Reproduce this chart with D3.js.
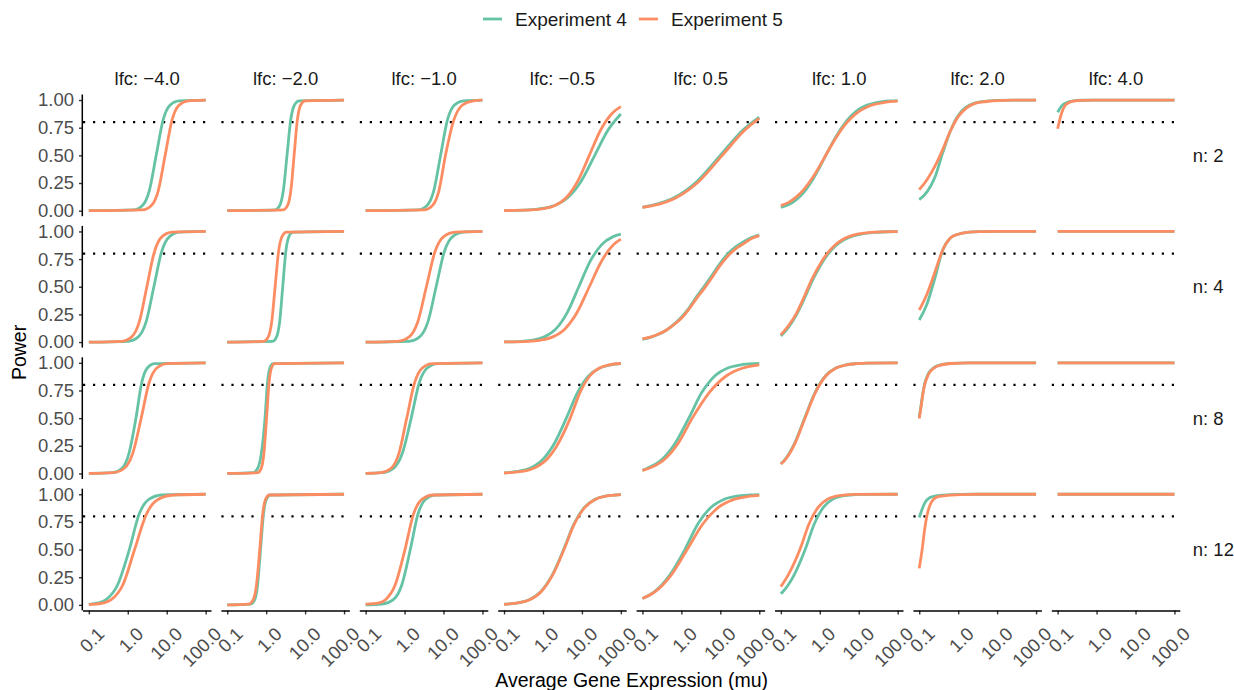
<!DOCTYPE html>
<meta charset="utf-8">
<style>
body { margin: 0; background: #fff; }
text { font-family: "Liberation Sans", Arial, Helvetica, sans-serif; }
.curve { fill: none; stroke-width: 2.8px; stroke-linejoin: round; }
.target { stroke: #000; stroke-width: 2.2px; stroke-dasharray: 2.2, 7.8; }
.axis-line { stroke: #000; stroke-width: 1.5px; }
</style>
<body>
<script src="https://d3js.org/d3.v7.min.js"></script>
<script>

// facets
var lfcs = [-4, -2, -1, -0.5, 0.5, 1, 2, 4];
var ns = [2, 4, 8, 12];
var experiments = ["Experiment 4", "Experiment 5"];
var colors = ["#66c2a5", "#fc8d62"];
var muTicks = [0.1, 1, 10, 100];
var powerTicks = [0, 0.25, 0.5, 0.75, 1];
var targetPower = 0.8;

// power curves, one list per lfc panel, points are [log10(mu), power]
var exp4_n2 = [
  [[-1,0],[0.142,0.007],[0.377,0.047],[0.554,0.182],[0.73,0.5],[0.906,0.818],[1.083,0.953],[1.318,0.993],[2,1]],
  [[-1,0],[0.222,0.007],[0.348,0.047],[0.441,0.182],[0.535,0.5],[0.629,0.818],[0.723,0.953],[0.848,0.993],[2,1]],
  [[-1,0],[0.344,0.007],[0.576,0.047],[0.751,0.182],[0.925,0.5],[1.099,0.818],[1.274,0.953],[1.506,0.993],[2,1]],
  [[-1,0.001],[-0.394,0.007],[-0.049,0.018],[0.296,0.047],[0.64,0.119],[0.985,0.269],[1.33,0.5],[1.675,0.731],[2,0.874]],
  [[-1,0.03],[-0.765,0.047],[-0.176,0.119],[0.412,0.269],[1.0,0.5],[1.588,0.731],[2,0.846]],
  [[-1,0.03],[-0.8,0.055],[-0.6,0.1],[-0.4,0.17],[-0.2,0.27],[0,0.395],[0.2,0.53],[0.4,0.66],[0.6,0.77],[0.8,0.855],[1,0.915],[1.2,0.952],[1.4,0.973],[1.6,0.985],[1.8,0.992],[2,0.995]],
  [[-1,0.1],[-0.8,0.17],[-0.6,0.3],[-0.4,0.52],[-0.2,0.72],[0,0.86],[0.2,0.935],[0.4,0.97],[0.6,0.985],[0.8,0.993],[1,0.997],[1.4,1],[2,1]],
  [[-1,0.89],[-0.9,0.945],[-0.8,0.972],[-0.6,0.993],[-0.4,0.998],[0,1],[2,1]]
];
var exp5_n2 = [
  [[-1,0],[0.372,0.007],[0.607,0.047],[0.784,0.182],[0.96,0.5],[1.136,0.818],[1.313,0.953],[1.548,0.993],[2,1]],
  [[-1,0],[0.439,0.007],[0.55,0.047],[0.634,0.182],[0.717,0.5],[0.8,0.818],[0.884,0.953],[0.995,0.993],[2,1]],
  [[-1,0],[0.494,0.007],[0.717,0.047],[0.883,0.182],[1.05,0.5],[1.264,0.818],[1.479,0.953],[1.764,0.993],[2,0.999]],
  [[-1,0.001],[-0.28,0.007],[0.014,0.018],[0.308,0.047],[0.602,0.119],[0.896,0.269],[1.19,0.5],[1.484,0.731],[1.778,0.881],[2,0.94]],
  [[-1,0.03],[-0.715,0.047],[-0.126,0.119],[0.462,0.269],[1.05,0.5],[1.638,0.731],[2,0.834]],
  [[-1,0.045],[-0.8,0.075],[-0.6,0.125],[-0.4,0.195],[-0.2,0.29],[0,0.405],[0.2,0.53],[0.4,0.65],[0.6,0.755],[0.8,0.835],[1,0.895],[1.2,0.935],[1.4,0.96],[1.6,0.975],[1.8,0.985],[2,0.99]],
  [[-1,0.19],[-0.8,0.28],[-0.6,0.4],[-0.4,0.55],[-0.2,0.72],[0,0.85],[0.2,0.925],[0.4,0.965],[0.6,0.982],[0.8,0.99],[1,0.995],[1.4,1],[2,1]],
  [[-1,0.74],[-0.9,0.88],[-0.8,0.955],[-0.7,0.978],[-0.6,0.99],[-0.4,0.997],[0,1],[2,1]]
];
var exp4_n4 = [
  [[-1,0],[0.003,0.007],[0.27,0.047],[0.47,0.182],[0.67,0.5],[0.87,0.818],[1.07,0.953],[1.337,0.993],[2,1]],
  [[-1,0],[0.162,0.007],[0.267,0.047],[0.346,0.182],[0.425,0.5],[0.504,0.818],[0.583,0.953],[0.688,0.993],[2,1]],
  [[-1,0],[0.106,0.007],[0.387,0.047],[0.599,0.182],[0.81,0.5],[1.021,0.818],[1.233,0.953],[1.514,0.993],[2,1]],
  [[-1,0.001],[-0.55,0.007],[-0.256,0.018],[0.038,0.047],[0.332,0.119],[0.626,0.269],[0.92,0.5],[1.214,0.731],[1.508,0.881],[1.802,0.953],[2,0.975]],
  [[-1,0.025],[-0.8,0.042],[-0.6,0.068],[-0.4,0.105],[-0.2,0.158],[0,0.225],[0.2,0.31],[0.4,0.415],[0.6,0.51],[0.8,0.61],[1,0.715],[1.2,0.8],[1.4,0.862],[1.6,0.908],[1.8,0.945],[2,0.968]],
  [[-1,0.055],[-0.8,0.135],[-0.6,0.246],[-0.4,0.39],[-0.2,0.549],[0,0.68],[0.2,0.789],[0.4,0.868],[0.6,0.92],[0.8,0.953],[1,0.972],[1.2,0.984],[1.4,0.991],[1.6,0.995],[1.8,0.997],[2,0.998]],
  [[-1,0.2],[-0.8,0.345],[-0.6,0.575],[-0.4,0.83],[-0.2,0.94],[0,0.975],[0.2,0.99],[0.4,0.996],[0.6,0.998],[1,1],[2,1]],
  [[-1,1],[2,1]]
];
var exp5_n4 = [
  [[-1,0],[-0.159,0.007],[0.1,0.047],[0.295,0.182],[0.49,0.5],[0.685,0.818],[0.88,0.953],[1.139,0.993],[2,1]],
  [[-1,0],[-0.064,0.007],[0.054,0.047],[0.142,0.182],[0.23,0.5],[0.318,0.818],[0.406,0.953],[0.524,0.993],[2,1]],
  [[-1,0],[-0.181,0.007],[0.116,0.047],[0.338,0.182],[0.56,0.5],[0.782,0.818],[1.004,0.953],[1.301,0.993],[2,1]],
  [[-1,0.001],[-0.372,0.007],[-0.06,0.018],[0.252,0.047],[0.565,0.119],[0.878,0.269],[1.19,0.5],[1.503,0.731],[1.815,0.881],[2,0.93]],
  [[-1,0.028],[-0.8,0.045],[-0.6,0.07],[-0.4,0.105],[-0.2,0.155],[0,0.215],[0.2,0.3],[0.4,0.4],[0.6,0.49],[0.8,0.59],[1,0.695],[1.2,0.78],[1.4,0.845],[1.6,0.89],[1.8,0.935],[2,0.962]],
  [[-1,0.065],[-0.8,0.15],[-0.6,0.26],[-0.4,0.41],[-0.2,0.57],[0,0.7],[0.2,0.805],[0.4,0.88],[0.6,0.93],[0.8,0.96],[1,0.977],[1.2,0.987],[1.4,0.993],[1.6,0.996],[1.8,0.998],[2,0.999]],
  [[-1,0.29],[-0.8,0.435],[-0.6,0.63],[-0.4,0.83],[-0.2,0.94],[0,0.975],[0.2,0.99],[0.4,0.996],[0.6,0.998],[1,1],[2,1]],
  [[-1,1],[2,1]]
];
var exp4_n8 = [
  [[-1,0],[-0.385,0.007],[-0.147,0.047],[0.031,0.182],[0.21,0.5],[0.356,0.818],[0.501,0.953],[0.695,0.993],[2,1]],
  [[-1,0],[-0.343,0.007],[-0.218,0.047],[-0.124,0.182],[-0.03,0.5],[0.033,0.818],[0.095,0.953],[0.178,0.993],[2,1]],
  [[-1,0],[-0.588,0.007],[-0.285,0.047],[-0.057,0.182],[0.17,0.5],[0.375,0.818],[0.581,0.953],[0.855,0.993],[2,1]],
  [[-1,0.006],[-0.65,0.018],[-0.338,0.047],[-0.025,0.119],[0.288,0.269],[0.6,0.5],[0.886,0.731],[1.171,0.881],[1.457,0.953],[1.743,0.982],[2,0.993]],
  [[-1,0.028],[-0.881,0.047],[-0.524,0.119],[-0.167,0.269],[0.19,0.5],[0.523,0.731],[0.857,0.881],[1.19,0.953],[1.523,0.982],[1.857,0.993],[2,0.995]],
  [[-1,0.088],[-0.91,0.119],[-0.65,0.269],[-0.39,0.5],[-0.123,0.731],[0.144,0.881],[0.41,0.953],[0.677,0.982],[0.944,0.993],[1.21,0.998],[2,1]],
  [[-1,0.51],[-0.954,0.615],[-0.91,0.72],[-0.862,0.81],[-0.77,0.9],[-0.633,0.955],[-0.45,0.982],[-0.174,0.995],[0.28,1],[2,1]],
  [[-1,1],[2,1]]
];
var exp5_n8 = [
  [[-1,0],[-0.38,0.007],[-0.09,0.047],[0.128,0.182],[0.345,0.5],[0.545,0.818],[0.745,0.953],[1.012,0.993],[2,1]],
  [[-1,0],[-0.217,0.007],[-0.126,0.047],[-0.058,0.182],[0.01,0.5],[0.073,0.818],[0.135,0.953],[0.218,0.993],[2,1]],
  [[-1,0],[-0.612,0.007],[-0.345,0.047],[-0.145,0.182],[0.055,0.5],[0.255,0.818],[0.455,0.953],[0.722,0.993],[2,1]],
  [[-1,0.004],[-0.863,0.007],[-0.55,0.018],[-0.238,0.047],[0.075,0.119],[0.388,0.269],[0.7,0.5],[0.95,0.731],[1.2,0.881],[1.45,0.953],[1.7,0.982],[2,0.994]],
  [[-1,0.028],[-0.83,0.047],[-0.46,0.119],[-0.09,0.269],[0.28,0.5],[0.715,0.731],[1.15,0.881],[1.585,0.953],[2,0.981]],
  [[-1,0.085],[-0.9,0.119],[-0.64,0.269],[-0.38,0.5],[-0.113,0.731],[0.154,0.881],[0.42,0.953],[0.687,0.982],[0.954,0.993],[1.22,0.998],[2,1]],
  [[-1,0.497],[-0.954,0.6],[-0.91,0.71],[-0.862,0.8],[-0.77,0.89],[-0.633,0.95],[-0.45,0.98],[-0.174,0.994],[0.28,1],[2,1]],
  [[-1,1],[2,1]]
];
var exp4_n12 = [
  [[-1,0.005],[-0.76,0.018],[-0.56,0.047],[-0.26,0.182],[0.04,0.5],[0.29,0.818],[0.54,0.953],[0.873,0.993],[2,1]],
  [[-1,0],[-0.395,0.007],[-0.295,0.047],[-0.22,0.182],[-0.145,0.5],[-0.07,0.818],[0.005,0.953],[0.105,0.993],[2,1]],
  [[-1,0],[-0.578,0.007],[-0.288,0.047],[-0.07,0.182],[0.147,0.5],[0.342,0.818],[0.537,0.953],[0.796,0.993],[2,1]],
  [[-1,0.005],[-0.94,0.007],[-0.646,0.018],[-0.352,0.047],[-0.058,0.119],[0.236,0.269],[0.53,0.5],[0.797,0.731],[1.063,0.881],[1.33,0.953],[1.597,0.982],[1.863,0.993],[2,0.996]],
  [[-1,0.057],[-0.688,0.119],[-0.299,0.269],[0.09,0.5],[0.423,0.731],[0.757,0.881],[1.09,0.953],[1.423,0.982],[1.757,0.993],[2,0.997]],
  [[-1,0.1],[-0.947,0.119],[-0.661,0.269],[-0.375,0.5],[-0.142,0.731],[0.091,0.881],[0.323,0.953],[0.555,0.982],[0.788,0.993],[1.02,0.998],[2,1]],
  [[-1,0.79],[-0.86,0.92],[-0.725,0.97],[-0.54,0.988],[-0.17,0.997],[0.3,1],[2,1]],
  [[-1,1],[2,1]]
];
var exp5_n12 = [
  [[-1,0.003],[-0.825,0.007],[-0.625,0.018],[-0.425,0.047],[-0.125,0.182],[0.175,0.5],[0.475,0.818],[0.775,0.953],[1.175,0.993],[2,1]],
  [[-1,0],[-0.443,0.007],[-0.332,0.047],[-0.248,0.182],[-0.165,0.5],[-0.09,0.818],[-0.015,0.953],[0.085,0.993],[2,1]],
  [[-1,0.006],[-0.657,0.018],[-0.49,0.047],[-0.24,0.182],[0.01,0.5],[0.227,0.818],[0.445,0.953],[0.735,0.993],[2,1]],
  [[-1,0.005],[-0.93,0.007],[-0.636,0.018],[-0.342,0.047],[-0.048,0.119],[0.246,0.269],[0.54,0.5],[0.807,0.731],[1.073,0.881],[1.34,0.953],[1.607,0.982],[1.873,0.993],[2,0.996]],
  [[-1,0.058],[-0.674,0.119],[-0.262,0.269],[0.15,0.5],[0.55,0.731],[0.95,0.881],[1.35,0.953],[1.75,0.982],[2,0.99]],
  [[-1,0.165],[-0.813,0.269],[-0.51,0.5],[-0.277,0.731],[-0.044,0.881],[0.189,0.953],[0.421,0.982],[0.654,0.993],[0.886,0.998],[2,1]],
  [[-1,0.33],[-0.927,0.497],[-0.862,0.68],[-0.8,0.81],[-0.725,0.9],[-0.633,0.955],[-0.495,0.98],[-0.266,0.99],[0.1,0.997],[0.5,1],[2,1]],
  [[-1,1],[2,1]]
];

// rows of the grid: [Experiment 4, Experiment 5]
var rows = [
  [exp4_n2, exp5_n2],
  [exp4_n4, exp5_n4],
  [exp4_n8, exp5_n8],
  [exp4_n12, exp5_n12]
];

// layout
var width = 1234, height = 690;
var gridLeft = 83, gridTop = 94.5;
var panelW = 128.5, panelH = 121.7;
var colStep = 138.4, rowStep = 131.4;

var svg = d3.select("body").append("svg")
    .attr("width", width)
    .attr("height", height);

// 5% expansion on each side, like ggplot
var padX = panelW * 0.05 / 1.1, padY = panelH * 0.05 / 1.1;
var x = d3.scaleLog().domain([0.1, 100]).range([padX, panelW - padX]);
var y = d3.scaleLinear().domain([0, 1]).range([panelH - padY, padY]);

var line = d3.line()
    .x(function(d) { return x(Math.pow(10, d[0])); })
    .y(function(d) { return y(d[1]); })
    .curve(d3.curveMonotoneX);

function fmtLfc(v) { return "lfc: " + v.toFixed(1).replace("-", "\u2212"); }

ns.forEach(function(n, r) {
  lfcs.forEach(function(lfc, c) {
    var g = svg.append("g")
        .attr("transform", "translate(" + (gridLeft + c * colStep) + "," + (gridTop + r * rowStep) + ")");

    // target power line
    g.append("line")
        .attr("class", "target")
        .attr("x1", 0).attr("x2", panelW)
        .attr("y1", y(targetPower)).attr("y2", y(targetPower));

    rows[r].forEach(function(series, e) {
      g.append("path")
          .attr("class", "curve")
          .attr("stroke", colors[e])
          .attr("d", line(series[c]));
    });

    // left axis on first column
    if (c === 0) {
      var ya = g.append("g")
          .call(d3.axisLeft(y).tickValues(powerTicks).tickFormat(d3.format(".2f"))
            .tickSize(4).tickPadding(5));
      ya.select(".domain").remove();
      ya.selectAll(".tick line").attr("stroke", "#333").attr("stroke-width", 1.4);
      ya.selectAll(".tick text").attr("fill", "#4d4d4d")
          .style("font-size", "18.5px").style("font-family", "Liberation Sans, Arial, sans-serif");
      g.append("line").attr("class", "axis-line")
          .attr("x1", -0.7).attr("x2", -0.7).attr("y1", 0).attr("y2", panelH);
    }

    // bottom axis on last row
    if (r === ns.length - 1) {
      var xa = g.append("g")
          .attr("transform", "translate(0," + panelH + ")")
          .call(d3.axisBottom(x).tickValues(muTicks).tickFormat(d3.format(".1f"))
            .tickSize(4));
      xa.select(".domain").remove();
      xa.selectAll(".tick line").attr("stroke", "#333").attr("stroke-width", 1.4);
      xa.selectAll(".tick text")
          .attr("x", 0).attr("y", 0).attr("dy", "0.71em")
          .attr("transform", "translate(7,15.5) rotate(-45)")
          .attr("fill", "#4d4d4d")
          .style("text-anchor", "end")
          .style("font-size", "18.5px").style("font-family", "Liberation Sans, Arial, sans-serif");
      g.append("line").attr("class", "axis-line")
          .attr("x1", 0).attr("x2", panelW).attr("y1", panelH + 0.7).attr("y2", panelH + 0.7);
    }

    // top strip
    if (r === 0) {
      g.append("text")
          .attr("x", panelW / 2).attr("y", 85 - gridTop)
          .attr("text-anchor", "middle")
          .attr("fill", "#1a1a1a")
          .style("font-size", "18.5px")
          .text(fmtLfc(lfc));
    }
    // right strip
    if (c === lfcs.length - 1) {
      g.append("text")
          .attr("x", panelW + 12.5).attr("y", panelH / 2 + 6.5)
          .attr("fill", "#1a1a1a")
          .style("font-size", "18.5px")
          .text("n: " + n);
    }
  });
});

// axis titles
svg.append("text")
    .attr("x", (gridLeft + gridLeft + 7 * colStep + panelW) / 2).attr("y", 687)
    .attr("text-anchor", "middle")
    .style("font-size", "19.5px")
    .text("Average Gene Expression (mu)");

svg.append("text")
    .attr("transform", "translate(26," + (gridTop + (3 * rowStep + panelH) / 2) + ") rotate(-90)")
    .attr("text-anchor", "middle")
    .style("font-size", "19.5px")
    .text("Power");

// legend
var lx = 483;
experiments.forEach(function(name, i) {
  svg.append("line")
      .attr("x1", lx).attr("x2", lx + 19)
      .attr("y1", 19).attr("y2", 19)
      .attr("stroke", colors[i]).attr("stroke-width", 2.8);
  var t = svg.append("text")
      .attr("x", lx + 32).attr("y", 25.5)
      .attr("fill", "#1a1a1a")
      .style("font-size", "19px")
      .text(name);
  lx += 32 + t.node().getComputedTextLength() + 12;
});

</script>
</body>
